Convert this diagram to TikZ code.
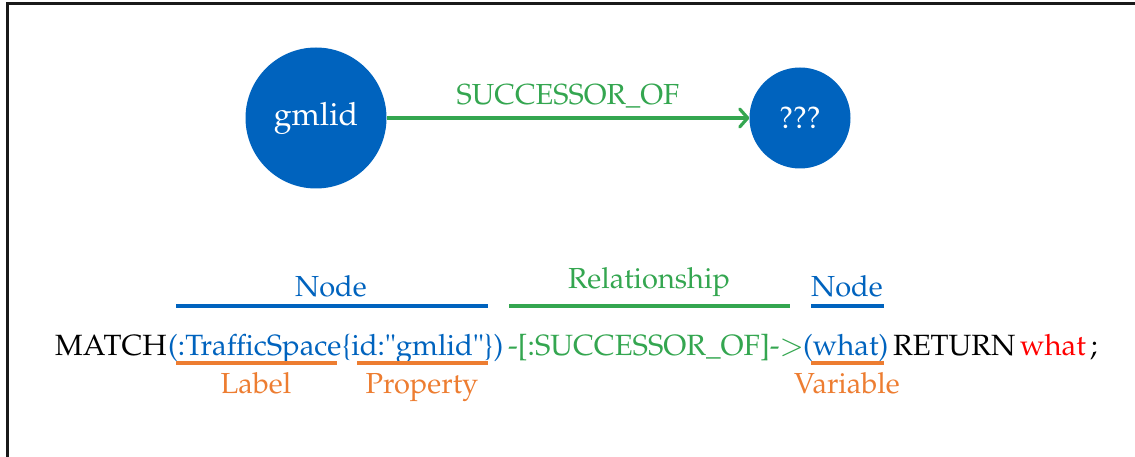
\documentclass[tikz,border=0pt]{standalone}
\usepackage[T1]{fontenc}
\usepackage{mathpazo}
\usetikzlibrary{arrows.meta}
\definecolor{nodeblue}{RGB}{0,99,190}
\definecolor{relgreen}{RGB}{52,166,80}
\definecolor{tagorange}{RGB}{237,125,49}
\definecolor{varred}{RGB}{255,0,0}
\tikzset{
  graphnode/.style={circle,fill=nodeblue,draw=none,text=white,inner sep=0pt},
  code/.style={anchor=base west,inner sep=0pt,font=\fontsize{29.3}{34}\selectfont},
  tag/.style={anchor=base,inner sep=0pt,font=\fontsize{29}{34}\selectfont},
  bar/.style={line width=4pt},
}
\begin{document}
\begin{tikzpicture}[x=1pt,y=-1pt]
\useasboundingbox (0,0) rectangle (1135,457);
% frame edges
\coordinate (fbl) at (7,470);
\coordinate (ftl) at (7,4);
\coordinate (ftr) at (1145,4);
\draw[line width=3pt,black!90] (fbl) -- (ftl) -- (ftr);

% graph pattern
\node[graphnode,minimum size=141pt,font=\fontsize{32}{36}\selectfont] (gml) at (316,118) {gmlid};
\node[graphnode,minimum size=101pt,font=\fontsize{31}{36}\selectfont] (unk) at (800,118) {???};
\draw[relgreen,line width=3.2pt,-{Straight Barb[length=8pt,width=18pt,line cap=round,line join=round]}]
  (gml) -- node[above=8pt,text=relgreen,font=\fontsize{29}{34}\selectfont,inner sep=0pt] (rel) {SUCCESSOR\_OF} (unk);

% query line
\node[code] (kw) at (55,355) {MATCH};
\node[code,text=nodeblue] (src) at (168,355) {(:TrafficSpace\{id:\textquotedbl gmlid\textquotedbl\})};
\node[code,text=relgreen] (edge) at (508,355) {-[:SUCCESSOR\_OF]-$>$};
\node[code,text=nodeblue] (dst) at (803,355) {(what)};
\node[code] (ret) at (893,355) {RETURN};
\node[code,text=varred] (var) at (1020,355) {what};
\node[code] (semi) at (1090,355) {;};

% upper brackets
\coordinate (n1a) at (176,306); \coordinate (n1b) at (488,306);
\coordinate (r1a) at (509,306); \coordinate (r1b) at (790,306);
\coordinate (n2a) at (811,306); \coordinate (n2b) at (884,306);
\draw[bar,nodeblue] (n1a) -- (n1b);
\draw[bar,relgreen] (r1a) -- (r1b);
\draw[bar,nodeblue] (n2a) -- (n2b);
\node[tag,text=nodeblue] (tn1) at (331,296) {Node};
\node[tag,text=relgreen] (tr) at (649,288) {Relationship};
\node[tag,text=nodeblue] (tn2) at (847,296) {Node};

% lower brackets
\coordinate (la) at (176,363); \coordinate (lb) at (337,363);
\coordinate (pa) at (357,363); \coordinate (pb) at (488,363);
\coordinate (va) at (811,363); \coordinate (vb) at (884,363);
\draw[bar,tagorange] (la) -- (lb);
\draw[bar,tagorange] (pa) -- (pb);
\draw[bar,tagorange] (va) -- (vb);
\node[tag,text=tagorange] (tl) at (256,393) {Label};
\node[tag,text=tagorange] (tp) at (422,393) {Property};
\node[tag,text=tagorange] (tv) at (847,393) {Variable};
\end{tikzpicture}
\end{document}
